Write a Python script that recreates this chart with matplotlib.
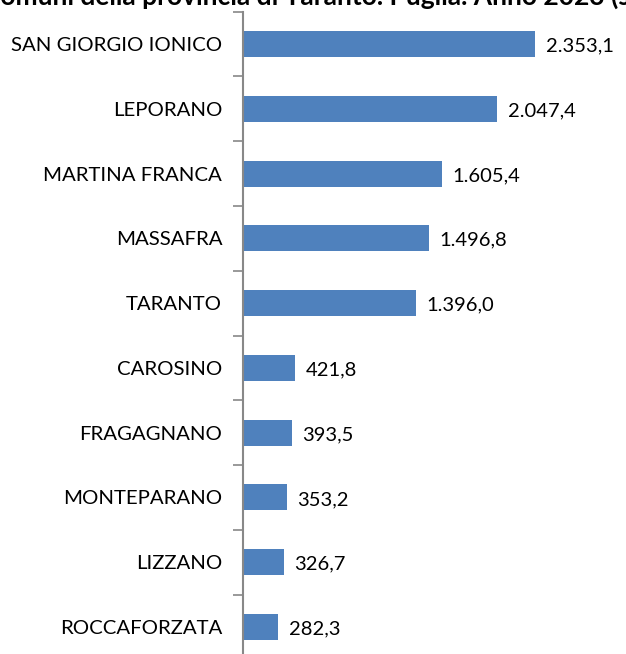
"""
Comuni della provincia di Taranto - bar chart (horizontal)
Output: out.png
"""
import matplotlib
matplotlib.use("Agg")
import matplotlib.pyplot as plt

# ── Data ───────────────────────────────────────────────────────
comuni = ["SAN GIORGIO IONICO", "LEPORANO", "MARTINA FRANCA", "MASSAFRA",
          "TARANTO", "CAROSINO", "FRAGAGNANO", "MONTEPARANO", "LIZZANO",
          "ROCCAFORZATA"]
valori = [2353.1, 2047.4, 1605.4, 1496.8, 1396.0, 421.8, 393.5, 353.2,
          326.7, 282.3]
titolo = "Comuni della provincia di Taranto. Puglia. Anno 2023 (su"

BAR   = "#4f81bd"
AXIS  = "#888888"
FONT  = ["Lato", "DejaVu Sans"]

plt.rcParams["font.family"] = FONT


def fmt_it(v):
    # 2353.1 -> 2.353,1
    s = f"{v:,.1f}"
    return s.replace(",", "X").replace(".", ",").replace("X", ".")


fig = plt.figure(figsize=(6.26, 6.54), dpi=100)
W, H = 626, 654
x0, x_top, x_bot = 243, 11.6, 659.4
px_per_unit = 292 / 2353.1
xmax = 2500
ax = fig.add_axes([x0 / W, (H - x_bot) / H,
                   xmax * px_per_unit / W, (x_bot - x_top) / H])

ypos = list(range(len(comuni)))
bars = ax.barh(ypos, valori, height=0.4, color=BAR)
ax.set_ylim(len(comuni) - 0.5, -0.5)
ax.set_xlim(0, xmax)

for y, v in zip(ypos, valori):
    ax.text(v + 85, y + 0.03, fmt_it(v), va="center", ha="left",
            fontsize=14.5, color="#000000")

ax.set_yticks(ypos)
ax.set_yticklabels(comuni, fontsize=14.7)
ax.set_yticks([i - 0.5 for i in range(len(comuni) + 1)], minor=True)
ax.tick_params(axis="y", which="major", length=0, pad=15)
ax.tick_params(axis="y", which="minor", length=7, width=1.2, color=AXIS,
               direction="out")
ax.set_xticks([])
for side in ["top", "right", "bottom"]:
    ax.spines[side].set_visible(False)
ax.spines["left"].set_color(AXIS)
ax.spines["left"].set_linewidth(1.5)

fig.text(-0.027, (H - 5) / H, titolo, fontsize=19, fontweight="bold",
         ha="left", va="baseline")

fig.savefig("out.png", dpi=100)
plt.close(fig)
